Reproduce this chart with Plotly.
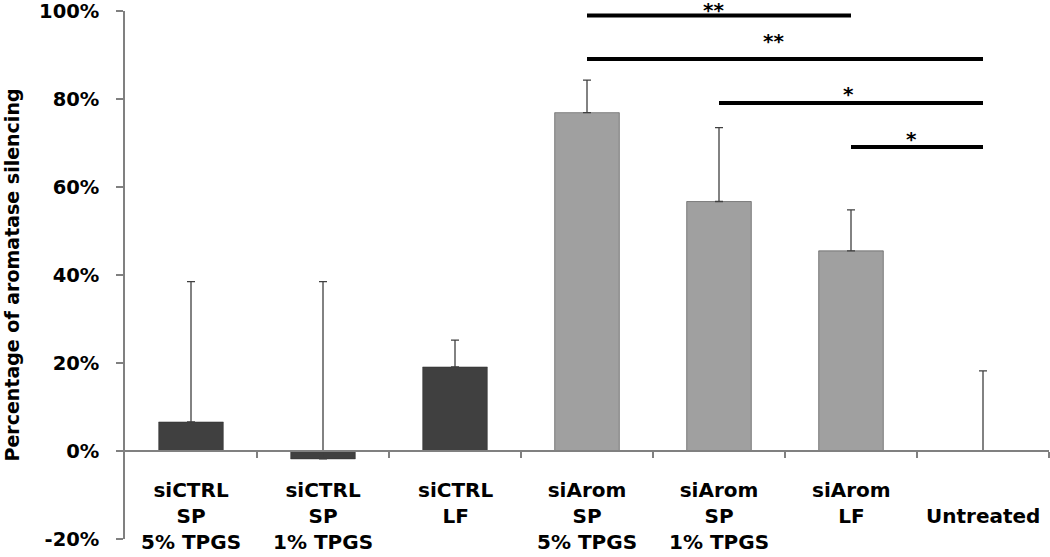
import plotly.graph_objects as go

categories = [
    ["siCTRL", "SP", "5% TPGS"],
    ["siCTRL", "SP", "1% TPGS"],
    ["siCTRL", "LF"],
    ["siArom", "SP", "5% TPGS"],
    ["siArom", "SP", "1% TPGS"],
    ["siArom", "LF"],
    ["\u00a0", "Untreated"],
]
values = [6.6, -1.8, 19.1, 76.9, 56.7, 45.5, 0.0]
error_plus = [31.9, 40.3, 6.1, 7.4, 16.8, 9.3, 18.2]
bar_colors = ["#404040", "#404040", "#404040", "#a0a0a0", "#a0a0a0", "#a0a0a0", "#a0a0a0"]

# significance brackets: (start index, end index, level, stars, star x, star y)
sig_lines = [
    (3, 5, 99.0, "**", 3.96, 100.6),
    (3, 6, 89.1, "**", 4.41, 93.6),
    (4, 6, 79.1, "*", 4.98, 81.6),
    (5, 6, 69.1, "*", 5.46, 71.4),
]

y_min, y_max = -20, 100
y_ticks = [-20, 0, 20, 40, 60, 80, 100]
y_ticklabels = [f"{v}%" for v in y_ticks]

FONT = "DejaVu Sans, Liberation Sans, Arial"
x = list(range(len(values)))

fig = go.Figure()
fig.add_trace(go.Bar(
    x=x, y=values, width=0.49,
    marker=dict(color=bar_colors, line=dict(color="#303030", width=0.5)),
    error_y=dict(type="data", symmetric=False, array=error_plus,
                 arrayminus=[0] * len(values), color="#404040",
                 thickness=1.3, width=4),
    showlegend=False,
))

for (a, b, lvl, stars, sx, sy) in sig_lines:
    fig.add_shape(type="line", xref="x", yref="y", x0=a, x1=b, y0=lvl, y1=lvl,
                  line=dict(color="black", width=4))
    fig.add_annotation(x=sx, y=(sy - y_min) / (y_max - y_min), xref="x", yref="paper",
                       text=f"<b>{stars}</b>",
                       showarrow=False, font=dict(size=20, color="black", family=FONT),
                       yanchor="top", yshift=12)

for i, lines in enumerate(categories):
    fig.add_annotation(x=i, y=(539 - 476) / 528, xref="x", yref="paper",
                       text="<b>" + "<br>".join(lines) + "</b>",
                       showarrow=False, yanchor="top", align="center",
                       font=dict(size=20, color="black", family=FONT))

fig.update_layout(
    width=1050, height=557,
    margin=dict(l=125, r=1, t=11, b=18),
    plot_bgcolor="white", paper_bgcolor="white",
    xaxis=dict(range=[-0.5, 6.5], anchor="free", position=(0 - y_min) / (y_max - y_min),
               showline=True, linecolor="#808080", linewidth=1.5,
               tickmode="array", tickvals=[i + 0.5 for i in range(len(values))],
               ticks="outside", ticklen=6, tickcolor="#808080", tickwidth=1.5,
               showticklabels=False, showgrid=False, zeroline=False, automargin=False),
    yaxis=dict(range=[y_min - 0.001, y_max + 0.001], tickvals=y_ticks,
               ticktext=[f"<b>{t}</b>" for t in y_ticklabels],
               showline=True, linecolor="#808080", linewidth=1.5,
               ticks="outside", ticklen=7, tickcolor="#808080", tickwidth=1.5,
               ticklabelstandoff=13, automargin=False, ticklabeloverflow="allow",
               tickfont=dict(size=19.5, color="black", family=FONT),
               showgrid=False, zeroline=False,
               title=dict(text="<b>Percentage of aromatase silencing</b>",
                          font=dict(size=19, color="black", family=FONT),
                          standoff=14)),
)

fig.write_html("out.html", config={"displayModeBar": False},
               post_script="document.body.style.margin='0px';")
